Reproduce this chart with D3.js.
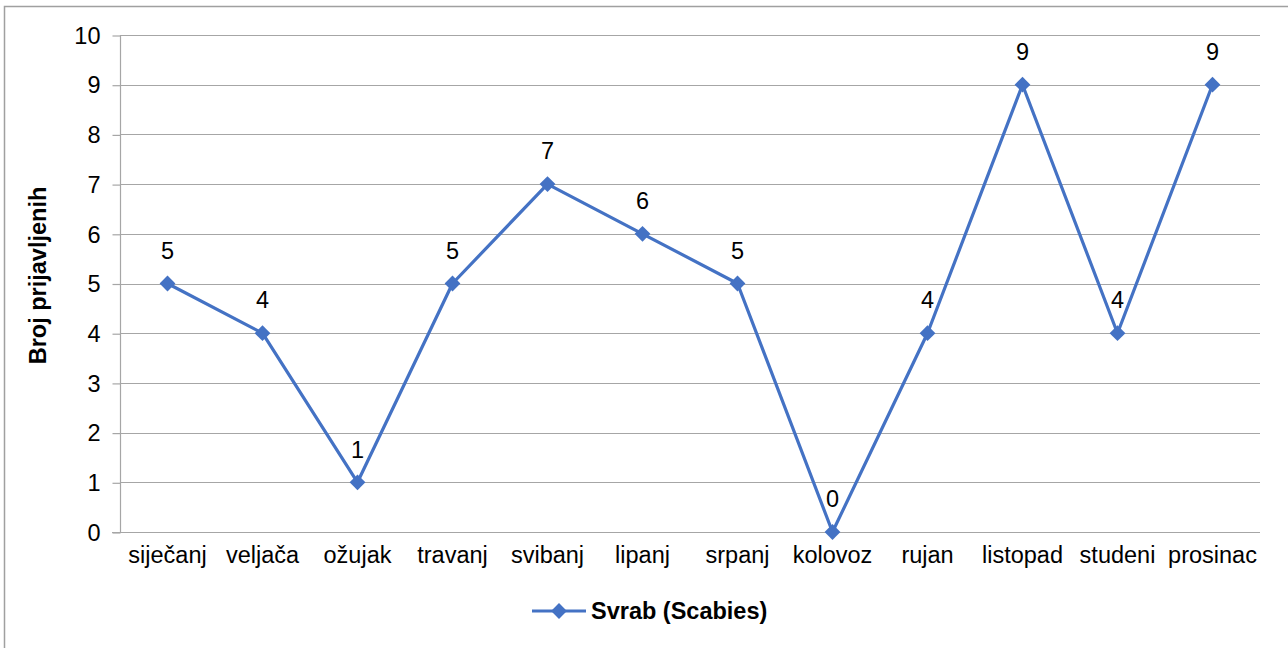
<!DOCTYPE html>
<html>
<head>
<meta charset="utf-8">
<script src="https://cdn.jsdelivr.net/npm/d3@7"></script>
<style>
  html, body { margin: 0; padding: 0; background: #fff; }
  svg { display: block; font-family: "Liberation Sans", Arial, sans-serif; }
</style>
</head>
<body>
<svg id="chart" width="1288" height="648"></svg>
<script>
// Monthly reported scabies cases
const months = ["siječanj", "veljača", "ožujak", "travanj", "svibanj", "lipanj",
                "srpanj", "kolovoz", "rujan", "listopad", "studeni", "prosinac"];
const cases = [5, 4, 1, 5, 7, 6, 5, 0, 4, 9, 4, 9];
const yTicks = [0, 1, 2, 3, 4, 5, 6, 7, 8, 9, 10];
const seriesName = "Svrab (Scabies)";
const yTitle = "Broj prijavljenih";

const svg = d3.select("#chart");
const W = 1288, H = 648;
const m = { left: 120, right: 28, top: 35, bottom: 116 };
const blue = "#4472C4";
const gridColor = "#a6a6a6";
const fs = 23.5;
const font = "Liberation Sans, Arial, sans-serif";

// chart frame
svg.append("rect")
  .attr("x", 4.5).attr("y", 6.5)
  .attr("width", W + 10).attr("height", H + 10)
  .attr("fill", "#fff").attr("stroke", "#a0a0a0").attr("stroke-width", 1.5);

const x = d3.scaleBand().domain(months).range([m.left, W - m.right]);
const y = d3.scaleLinear().domain([0, 10]).range([H - m.bottom, m.top]);

// horizontal gridlines
svg.append("g")
  .selectAll("line").data(yTicks.filter(t => t > 0)).join("line")
  .attr("x1", m.left).attr("x2", W - m.right)
  .attr("y1", d => Math.round(y(d)) + 0.5).attr("y2", d => Math.round(y(d)) + 0.5)
  .attr("stroke", gridColor).attr("stroke-width", 1.2);

// y axis
const yAxis = svg.append("g")
  .attr("transform", `translate(${m.left + 0.5},0)`)
  .call(d3.axisLeft(y).tickValues(yTicks).tickFormat(d3.format("d")).tickSize(8).tickPadding(12));
yAxis.select(".domain").attr("stroke", gridColor).attr("stroke-width", 1.2).attr("d", `M0,${y(10)}V${y(0)}`);
yAxis.selectAll(".tick line").attr("stroke", gridColor).attr("stroke-width", 1.2)
  .attr("transform", "translate(0,0.5)");
yAxis.selectAll(".tick text").attr("font-size", fs).attr("fill", "#000")
  .attr("font-family", font).attr("dy", "0.35em");

// x axis
const xAxis = svg.append("g")
  .attr("transform", `translate(0,${Math.round(y(0)) + 0.5})`)
  .call(d3.axisBottom(x).tickSize(0).tickPadding(22));
xAxis.select(".domain").attr("stroke", gridColor).attr("stroke-width", 1.2)
  .attr("d", `M${m.left - 8},0H${W - m.right}`);
xAxis.selectAll(".tick text").attr("font-size", fs).attr("fill", "#000")
  .attr("font-family", font).attr("dy", "0.35em");

// y axis title
svg.append("text")
  .attr("transform", `translate(38,${(y(10) + y(0)) / 2 - 8}) rotate(-90)`)
  .attr("text-anchor", "middle").attr("dy", "0.35em")
  .attr("font-size", fs).attr("font-weight", "bold")
  .text(yTitle);

const cx = d => x(d) + x.bandwidth() / 2;

// series line
svg.append("path")
  .datum(cases)
  .attr("fill", "none").attr("stroke", blue).attr("stroke-width", 3.2)
  .attr("stroke-linejoin", "round")
  .attr("d", d3.line().x((d, i) => cx(months[i])).y(d => y(d)));

// diamond markers
const diamond = d3.symbol().type(d3.symbolSquare).size(125);
svg.append("g").selectAll("path").data(cases).join("path")
  .attr("d", diamond)
  .attr("transform", (d, i) => `translate(${cx(months[i])},${y(d)}) rotate(45)`)
  .attr("fill", blue);

// value labels
svg.append("g").selectAll("text").data(cases).join("text")
  .attr("x", (d, i) => cx(months[i]))
  .attr("y", d => y(d) - 33)
  .attr("dy", "0.35em")
  .attr("text-anchor", "middle")
  .attr("font-size", fs).attr("fill", "#000")
  .text(d => d);

// legend
const lg = svg.append("g").attr("transform", "translate(532,611)");
lg.append("line").attr("x1", 0).attr("x2", 54).attr("y1", 0).attr("y2", 0)
  .attr("stroke", blue).attr("stroke-width", 3.2);
lg.append("path").attr("d", diamond).attr("transform", "translate(27,0) rotate(45)")
  .attr("fill", blue);
lg.append("text").attr("x", 59).attr("y", 0).attr("dy", "0.35em")
  .attr("font-size", fs).attr("font-weight", "bold").text(seriesName);
</script>
</body>
</html>
